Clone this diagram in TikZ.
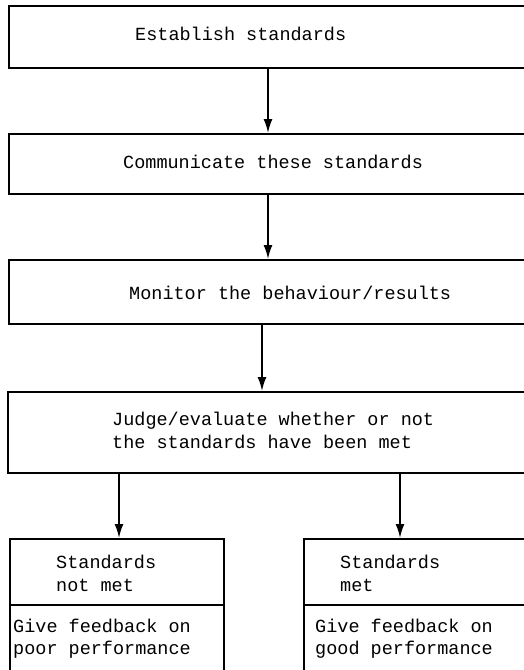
\documentclass[tikz,border=0pt]{standalone}
\usepackage{fontspec}
\setmonofont{Liberation Mono}
\usetikzlibrary{arrows.meta}
\tikzset{
    stepbox/.style= {shape=rectangle,draw,line width=1.8pt,inner sep=0,anchor=north west},
    steptext/.style= {font=\ttfamily\fontsize{18.5}{23}\selectfont,inner sep=0,anchor=base west},
    flow/.style= {-{Latex[length=14pt,width=9pt]},line width=1.8pt}
}

\begin{document}
\begin{tikzpicture}[x=1pt,y=-1pt]
    \clip (0,0) rectangle (524,670);
    % main chain
    \node[stepbox,minimum width=560pt,minimum height=62pt] (b1) at (8,5) {};
    \node[stepbox,minimum width=560pt,minimum height=60pt] (b2) at (8,133) {};
    \node[stepbox,minimum width=560pt,minimum height=64pt] (b3) at (8,259) {};
    \node[stepbox,minimum width=560pt,minimum height=81pt] (b4) at (7,391) {};
    % outcomes
    \node[stepbox,minimum width=214pt,minimum height=66pt] (nm) at (9,538) {};
    \node[stepbox,minimum width=214pt,minimum height=100pt] (nmfb) at (9,604) {};
    \node[stepbox,minimum width=260pt,minimum height=66pt] (m) at (303,538) {};
    \node[stepbox,minimum width=260pt,minimum height=100pt] (mfb) at (303,604) {};

    \node[steptext] (t1) at (135,40) {Establish standards};
    \node[steptext] (t2) at (123,168) {Communicate these standards};
    \node[steptext] (t3) at (129,299) {Monitor the behaviour/results};
    \node[steptext] (t4a) at (112,425) {Judge/evaluate whether or not};
    \node[steptext] (t4b) at (112,448) {the standards have been met};
    \node[steptext] (t5a) at (56,568) {Standards};
    \node[steptext] (t5b) at (56,591) {not met};
    \node[steptext] (t6a) at (13,632) {Give feedback on};
    \node[steptext] (t6b) at (13,654) {poor performance};
    \node[steptext] (t7a) at (340,568) {Standards};
    \node[steptext] (t7b) at (340,591) {met};
    \node[steptext] (t8a) at (315,632) {Give feedback on};
    \node[steptext] (t8b) at (315,654) {good performance};

    \coordinate (a1) at (268,0);
    \coordinate (a3) at (262,0);
    \coordinate (a4) at (119,0);
    \coordinate (a5) at (400,0);
    \draw[flow] (b1.south -| a1) -- (b2.north -| a1);
    \draw[flow] (b2.south -| a1) -- (b3.north -| a1);
    \draw[flow] (b3.south -| a3) -- (b4.north -| a3);
    \draw[flow] (b4.south -| a4) -- (nm.north -| a4);
    \draw[flow] (b4.south -| a5) -- (m.north -| a5);
\end{tikzpicture}
\end{document}
